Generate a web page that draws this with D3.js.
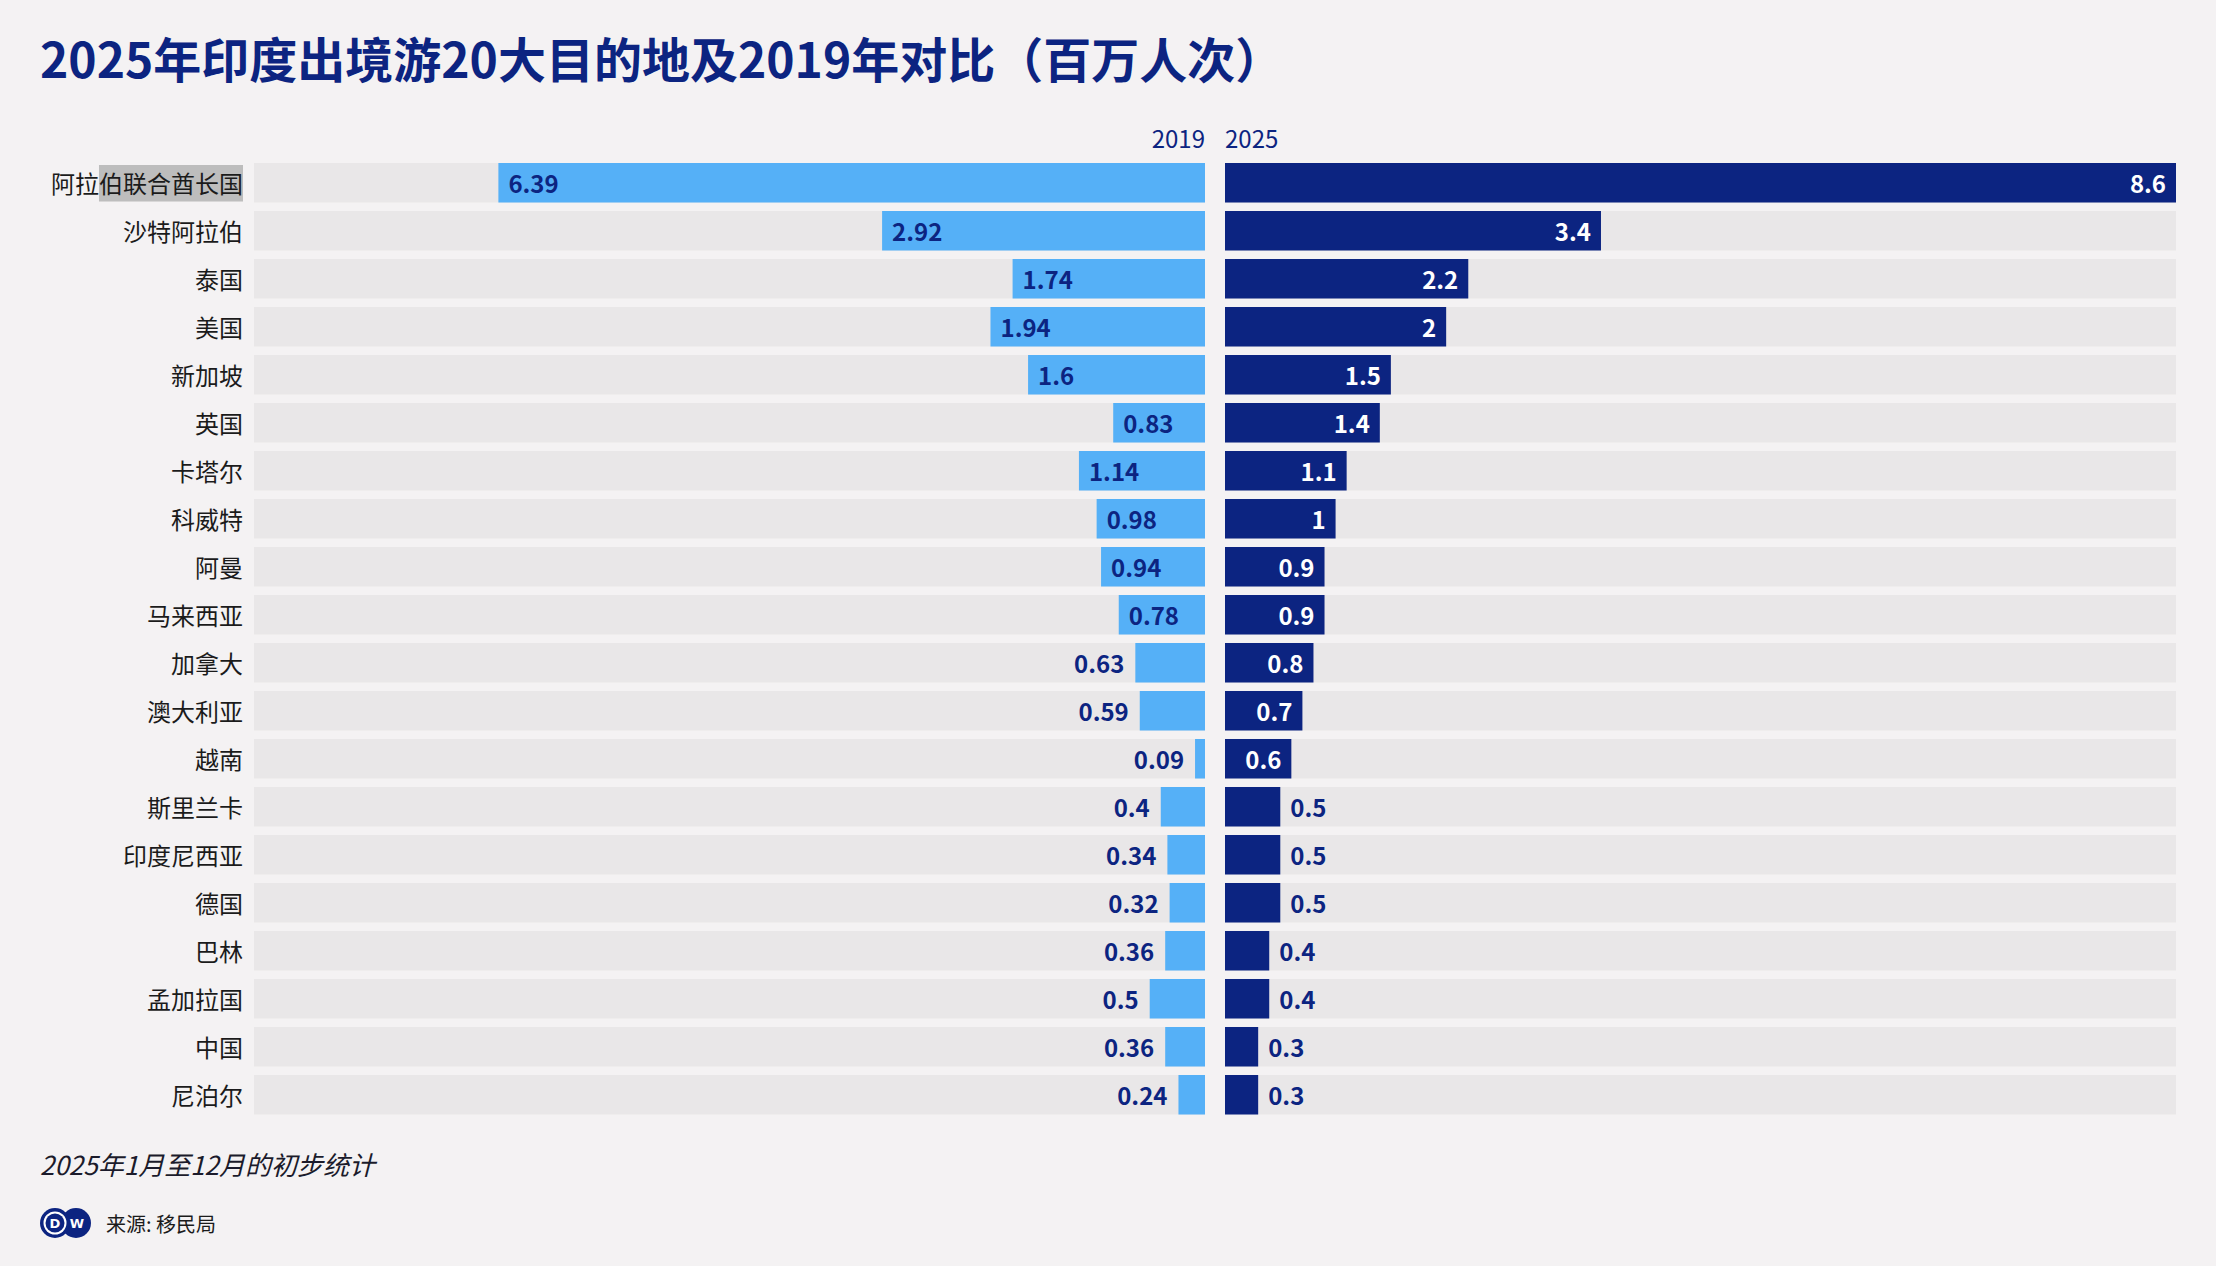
<!DOCTYPE html>
<html lang="zh">
<head>
<meta charset="UTF-8">
<title>2025年印度出境游20大目的地</title>
<style>
  html, body { margin: 0; padding: 0; background: #f4f2f3; }
  svg { display: block; font-family: "Noto Sans CJK SC", "Noto Sans", sans-serif; }
</style>
</head>
<body>
<div id="chart"></div>
<script src="https://d3js.org/d3.v7.min.js"></script>
<script>
  // data
  const countries = ['阿拉伯联合酋长国','沙特阿拉伯','泰国','美国','新加坡','英国','卡塔尔','科威特','阿曼','马来西亚',
                     '加拿大','澳大利亚','越南','斯里兰卡','印度尼西亚','德国','巴林','孟加拉国','中国','尼泊尔'];
  const v2019 = [6.39,2.92,1.74,1.94,1.6,0.83,1.14,0.98,0.94,0.78,0.63,0.59,0.09,0.4,0.34,0.32,0.36,0.5,0.36,0.24];
  const v2025 = [8.6,3.4,2.2,2,1.5,1.4,1.1,1,0.9,0.9,0.8,0.7,0.6,0.5,0.5,0.5,0.4,0.4,0.3,0.3];
  const years = ['2019','2025'];

  const W = 2216, H = 1266;
  const navy = '#0c2481', blue = '#55b0f7', track = '#e9e7e8';

  const rows = countries.map((c,i)=>({name:c, a:v2019[i], b:v2025[i]}));

  const svg = d3.select('#chart').append('svg').attr('width',W).attr('height',H);
  svg.append('rect').attr('width',W).attr('height',H).attr('fill','#f4f2f3');

  const y = d3.scaleBand().domain(countries).range([163,1114.5]).paddingInner(0.177);
  const xL = d3.scaleLinear().domain([0,8.6]).range([1205,254]);
  const xR = d3.scaleLinear().domain([0,8.6]).range([1225,2176]);

  // title
  svg.append('text').attr('x',40).attr('y',78)
     .attr('font-size',48).attr('font-weight',700).attr('fill',navy)
     .text('2025年印度出境游20大目的地及2019年对比（百万人次）');

  // year headers
  svg.append('text').attr('x',xL(0)).attr('y',148).attr('text-anchor','end')
     .attr('font-size',24).attr('fill',navy).text(years[0]);
  svg.append('text').attr('x',xR(0)).attr('y',148)
     .attr('font-size',24).attr('fill',navy).text(years[1]);

  const g = svg.append('g');
  const row = g.selectAll('g.row').data(rows).join('g').attr('class','row')
               .attr('transform',d=>`translate(0,${y(d.name)})`);
  const bh = y.bandwidth();

  // tracks
  row.append('rect').attr('x',xL(8.6)).attr('width',xL(0)-xL(8.6)).attr('height',bh).attr('fill',track);
  row.append('rect').attr('x',xR(0)).attr('width',xR(8.6)-xR(0)).attr('height',bh).attr('fill',track);

  // bars
  row.append('rect').attr('x',d=>xL(d.a)).attr('width',d=>xL(0)-xL(d.a)).attr('height',bh).attr('fill',blue);
  row.append('rect').attr('x',xR(0)).attr('width',d=>xR(d.b)-xR(0)).attr('height',bh).attr('fill',navy);

  // value labels
  const dy = '0.42em';
  row.append('text').attr('y',bh/2).attr('font-size',24).attr('font-weight',700).attr('dy',dy)
     .attr('fill',navy)
     .attr('x',d=>d.a>=0.75 ? xL(d.a)+10 : xL(d.a)-11)
     .attr('text-anchor',d=>d.a>=0.75 ? 'start' : 'end')
     .text(d=>d.a);
  row.append('text').attr('y',bh/2).attr('font-size',24).attr('font-weight',700).attr('dy',dy)
     .attr('fill',d=>d.b>=0.6 ? '#ffffff' : navy)
     .attr('x',d=>d.b>=0.6 ? xR(d.b)-10 : xR(d.b)+10)
     .attr('text-anchor',d=>d.b>=0.6 ? 'end' : 'start')
     .text(d=>d.b);

  // category labels
  const names = row.append('text').attr('x',243).attr('y',bh/2).attr('dy',dy)
     .attr('text-anchor','end').attr('font-size',24).attr('fill','#1b1b1b')
     .text(d=>d.name);

  // grey selection highlight on the first label (seen in the reference)
  const first = names.nodes()[0];
  const ext = first.getExtentOfChar(2);
  d3.select(first.parentNode).insert('rect','text:last-of-type')
     .attr('x',ext.x).attr('y',2).attr('width',243-ext.x).attr('height',bh-3)
     .attr('fill','#bdbdbd');

  // footer
  svg.append('text').attr('x',40).attr('y',1175).attr('font-size',26)
     .attr('font-style','italic').attr('fill','#1b1b2b').text('2025年1月至12月的初步统计');

  const logo = svg.append('g').attr('transform','translate(40,1208)');
  logo.append('circle').attr('cx',36).attr('cy',15).attr('r',15).attr('fill',navy);
  logo.append('circle').attr('cx',15).attr('cy',15).attr('r',15).attr('fill',navy);
  logo.append('circle').attr('cx',15).attr('cy',15).attr('r',11.5).attr('fill','#ffffff');
  logo.append('circle').attr('cx',15).attr('cy',15).attr('r',9.5).attr('fill',navy);
  logo.append('text').attr('x',15).attr('y',15).attr('dy','0.36em').attr('text-anchor','middle')
      .attr('font-size',13).attr('font-weight',900).attr('fill','#fff').attr('font-family','DejaVu Sans').text('D');
  logo.append('text').attr('x',37).attr('y',15).attr('dy','0.36em').attr('text-anchor','middle')
      .attr('font-size',13).attr('font-weight',900).attr('fill','#fff').attr('font-family','DejaVu Sans').text('W');

  svg.append('text').attr('x',106).attr('y',1232).attr('font-size',20).attr('fill','#1b1b1b')
     .text('来源: 移民局');
</script>
</body>
</html>
